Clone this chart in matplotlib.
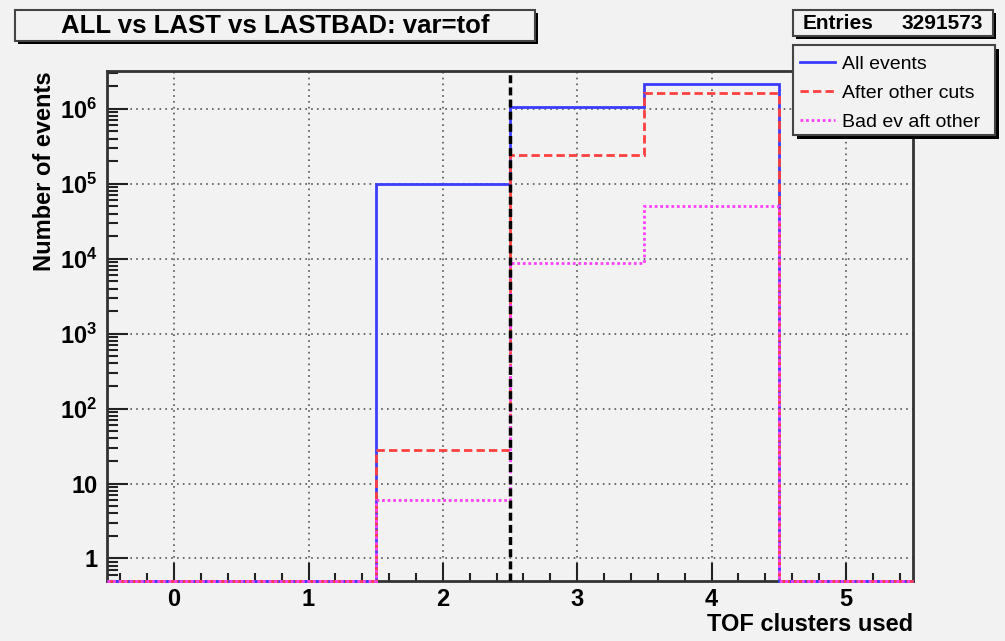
import matplotlib.pyplot as plt
import numpy as np
from matplotlib.patches import Rectangle
from matplotlib.ticker import FixedLocator, LogLocator, MultipleLocator, FuncFormatter, NullFormatter

plt.rcParams['font.family'] = 'Liberation Sans'
plt.rcParams['font.weight'] = 'bold'
plt.rcParams['axes.labelweight'] = 'bold'
plt.rcParams['mathtext.fontset'] = 'custom'
plt.rcParams['mathtext.rm'] = 'Liberation Sans:bold'
plt.rcParams['mathtext.it'] = 'Liberation Sans:bold'
plt.rcParams['mathtext.bf'] = 'Liberation Sans:bold'

# histogram contents, bins centred on 0..5
bin_edges = np.arange(-0.5, 6.0, 1.0)
all_events = [0, 0, 1.0e5, 1.07e6, 2.12e6, 0]
after_cuts = [0, 0, 28, 2.43e5, 1.62e6, 0]
bad_after = [0, 0, 6, 8.8e3, 5.1e4, 0]
series_labels = ['All events', 'After other cuts', 'Bad ev aft other']
entries = 3291573
cut_value = 2.5
decades = [1, 10, 1e2, 1e3, 1e4, 1e5, 1e6]

ymin, ymax = 0.5, 3.2e6
bg = '#f2f2f2'

fig = plt.figure(figsize=(10.05, 6.41), dpi=100, facecolor=bg)
ax = fig.add_axes([107 / 1005, 60 / 641, 806 / 1005, 510 / 641])
ax.set_facecolor(bg)


def clip(v):
    return np.maximum(np.asarray(v, float), ymin)


ax.stairs(clip(all_events), bin_edges, baseline=None, color='#3c3cff', lw=2,
          label=series_labels[0], clip_on=False, zorder=3)
ax.stairs(clip(after_cuts), bin_edges, baseline=None, color='#ff4040', lw=2,
          ls=(0, (3, 1.5)), label=series_labels[1], clip_on=False, zorder=3)
ax.stairs(clip(bad_after), bin_edges, baseline=None, color='#ff40ff', lw=2,
          ls=(0, (1, 1)), label=series_labels[2], clip_on=False, zorder=3)
ax.axvline(cut_value, color='k', lw=2.5, ls=(0, (2.3, 1.2)), zorder=4)

ax.set_yscale('log')
ax.set_xlim(bin_edges[0], bin_edges[-1])
ax.set_ylim(ymin, ymax)
ax.xaxis.set_major_locator(MultipleLocator(1))
ax.xaxis.set_minor_locator(MultipleLocator(0.2))
ax.yaxis.set_major_locator(FixedLocator(decades))
ax.yaxis.set_minor_locator(LogLocator(10, subs=np.arange(2, 10), numticks=20))
ax.yaxis.set_minor_formatter(NullFormatter())


def yfmt(v, pos):
    e = int(round(np.log10(v)))
    if e == 0:
        return '1'
    if e == 1:
        return '10'
    return r'$10^{%d}$' % e


ax.yaxis.set_major_formatter(FuncFormatter(yfmt))
ax.grid(True, which='major', color='#555555', lw=1.2, ls=(0, (1, 2.5)))
ax.tick_params(which='both', direction='in', top=False, right=False,
               labelsize=17, width=1.5, color='#222222')
ax.tick_params(axis='x', which='major', length=13, pad=5)
ax.tick_params(axis='x', which='minor', length=5.5)
ax.tick_params(axis='y', which='major', length=15, pad=7)
ax.tick_params(axis='y', which='minor', length=8)
for s in ax.spines.values():
    s.set_linewidth(2)
    s.set_color('#333333')

ax.set_xlabel('TOF clusters used', loc='right', fontsize=17, fontweight='bold')
ax.xaxis.set_label_coords(1.0, -0.063)
ax.set_ylabel('Number of events', loc='top', fontsize=17, fontweight='bold')
ax.yaxis.set_label_coords(-0.063, 1.0)


def box(x0, y0, x1, y1, sh=3):
    W, H = 1005, 641
    fig.add_artist(Rectangle(((x0 + sh) / W, 1 - (y1 + sh) / H), (x1 - x0) / W, (y1 - y0) / H,
                             transform=fig.transFigure, facecolor='black', edgecolor='none', zorder=5))
    fig.add_artist(Rectangle((x0 / W, 1 - y1 / H), (x1 - x0) / W, (y1 - y0) / H,
                             transform=fig.transFigure, facecolor=bg, edgecolor='#444444',
                             lw=1.5, zorder=5))


# title box
box(15, 10, 535, 41)
fig.text(275 / 1005, 1 - 26 / 641, 'ALL vs LAST vs LASTBAD: var=tof', ha='center', va='center',
         fontsize=18.5, zorder=6)

# stats box
box(793, 10, 993, 36)
fig.text(803 / 1005, 1 - 23.5 / 641, 'Entries', ha='left', va='center', fontsize=15, zorder=6)
fig.text(983 / 1005, 1 - 23.5 / 641, str(entries), ha='right', va='center', fontsize=15, zorder=6)

# legend box
box(793, 45, 995, 135, sh=4)
leg = fig.legend(*ax.get_legend_handles_labels(), loc='center left',
                 bbox_to_anchor=(793 / 1005, 1 - 138 / 641, 202 / 1005, 90 / 641),
                 frameon=False, borderaxespad=0, borderpad=0.35, handlelength=1.8,
                 handletextpad=0.35, labelspacing=0.6, prop={'size': 14, 'weight': 'normal'})
leg.set_zorder(6)

fig.savefig('out.png', dpi=100, facecolor=bg)
